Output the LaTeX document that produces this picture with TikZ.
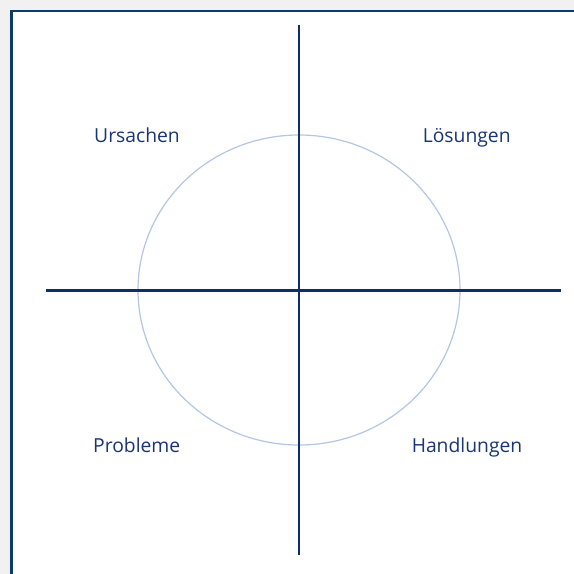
\documentclass[tikz,border=0pt]{standalone}
\usepackage{fontspec}
\setmainfont{Open Sans}
\definecolor{frameblue}{HTML}{0B3A6B}
\definecolor{axisblue}{HTML}{0F2C6B}
\definecolor{circleblue}{HTML}{B3C6E4}
\definecolor{textblue}{HTML}{1A3573}
\definecolor{bggray}{HTML}{F1F1F1}
\begin{document}
\begin{tikzpicture}[x=1pt,y=-1pt,
  lbl/.style={text=textblue,font=\fontsize{19.3}{21}\selectfont,inner sep=0pt,anchor=base},
  axis/.style={draw=axisblue,line width=2.4pt}]
\useasboundingbox (0,0) rectangle (574,574);
\fill[bggray] (0,0) rectangle (574,574);
\fill[white] (11,11) rectangle (574,574);
\draw[frameblue,line width=2.6pt] (11.3,574) -- (11.3,11) -- (574,11);
\draw[circleblue,line width=1.2pt] (299,290) ellipse [x radius=161, y radius=155];
\coordinate (vt) at (299,25);
\coordinate (vb) at (299,555);
\coordinate (hl) at (46,290.5);
\coordinate (hr) at (561,290.5);
\draw[axis] (vt) -- (vb);
\draw[axis] (hl) -- (hr);
\node[lbl] (u) at (137,142.3) {Ursachen};
\node[lbl] (l) at (466.7,142.3) {Lösungen};
\node[lbl] (p) at (136.7,452.3) {Probleme};
\node[lbl] (h) at (467,452.3) {Handlungen};
\end{tikzpicture}
\end{document}
